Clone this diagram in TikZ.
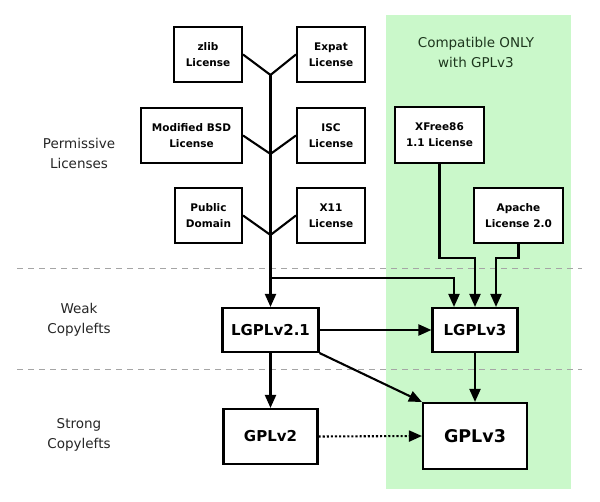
\documentclass[tikz,border=0pt]{standalone}
\usepackage{fontspec}
\setmainfont{DejaVu Sans}
\usetikzlibrary{arrows.meta,calc}
\definecolor{compat}{RGB}{202,248,202}
\definecolor{dashgray}{RGB}{165,165,165}
\definecolor{compattext}{RGB}{30,55,30}
\tikzset{
  lic/.style={draw=black, line width=2.1pt, fill=white, align=center, inner sep=0pt,
    font=\fontsize{10.5}{16}\selectfont\bfseries, minimum height=55pt},
  big/.style={draw=black, line width=2.1pt, fill=white, align=center, inner sep=0pt,
    font=\fontsize{15}{17}\selectfont\bfseries},
  cat/.style={align=center, text=black!85, font=\fontsize{13.5}{20}\selectfont},
  conn/.style={line width=2.1pt, draw=black},
  arr/.style={conn, -{Triangle[length=13pt,width=11pt]}},
  dotarr/.style={arr, dotted},
  sep/.style={draw=dashgray, line width=1pt, dash pattern=on 6pt off 5pt}
}
\begin{document}
\begin{tikzpicture}[x=1pt,y=-1pt]
\useasboundingbox (0,0) rectangle (600,502);
\fill[white] (0,0) rectangle (600,502);
\fill[compat] (386,15) rectangle (571,489);
\draw[sep] (17,269) -- (582,269);
\draw[sep] (17,370) -- (582,370);

% category labels
\node[cat] (perm) at (79,153) {Permissive\\Licenses};
\node[cat] (weak) at (79,320) {Weak\\Copylefts};
\node[cat] (strong) at (79,435) {Strong\\Copylefts};
\node[cat, text=compattext] (compl) at (476,52) {Compatible ONLY\\with GPLv3};

% permissive licences
\node[lic, minimum width=68pt] (zlib) at (208,54.5) {zlib\\License};
\node[lic, minimum width=68pt] (expat) at (331,54.5) {Expat\\License};
\node[lic, minimum width=101pt] (bsd) at (191.5,135.5) {Modified BSD\\License};
\node[lic, minimum width=68pt] (isc) at (331,135.5) {ISC\\License};
\node[lic, minimum width=67pt] (pd) at (208.5,215.5) {Public\\Domain};
\node[lic, minimum width=68pt] (x11) at (331,215.5) {X11\\License};
\node[lic, minimum width=89pt, minimum height=56pt] (xfree) at (439.5,135) {XFree86\\1.1 License};
\node[lic, minimum width=89pt] (apache) at (518.5,215.5) {Apache\\License 2.0};

% copylefts
\node[big, minimum width=96pt, minimum height=44pt] (lgpl21) at (270.5,330) {LGPLv2.1};
\node[big, minimum width=85pt, minimum height=44pt] (lgpl3) at (475,330) {LGPLv3};
\node[big, minimum width=94pt, minimum height=55pt] (gpl2) at (270.5,436.5) {GPLv2};
\node[big, minimum width=104pt, minimum height=66pt, font=\fontsize{17.5}{20}\selectfont\bfseries] (gpl3) at (475,436) {GPLv3};

% trunk junctions
\coordinate (j1) at (270.5,75);
\coordinate (j2) at (270.5,154);
\coordinate (j3) at (270.5,235);
\coordinate (br) at (270.5,278);
\coordinate (xc) at (475,258);
\coordinate (ac) at (496,258);

\draw[conn] (zlib.east) -- (j1) -- (expat.west);
\draw[conn] (bsd.east) -- (j2) -- (isc.west);
\draw[conn] (pd.east) -- (j3) -- (x11.west);
\draw[arr] (j1) -- (lgpl21.north);
\draw[arr] (br) -| ([xshift=-21pt]lgpl3.north);
\draw[arr] (xfree.south) |- (xc) -- (lgpl3.north);
\draw[arr] (apache.south) |- (ac) -- ([xshift=21pt]lgpl3.north);

\draw[arr] (lgpl21.east) -- (lgpl3.west);
\draw[arr] (lgpl21.south) -- (gpl2.north);
\draw[arr] (lgpl21.south east) -- (gpl3.north west);
\draw[arr] (lgpl3.south) -- (gpl3.north);
\draw[dotarr] (gpl2.east) -- (gpl3.west);
\end{tikzpicture}
\end{document}
